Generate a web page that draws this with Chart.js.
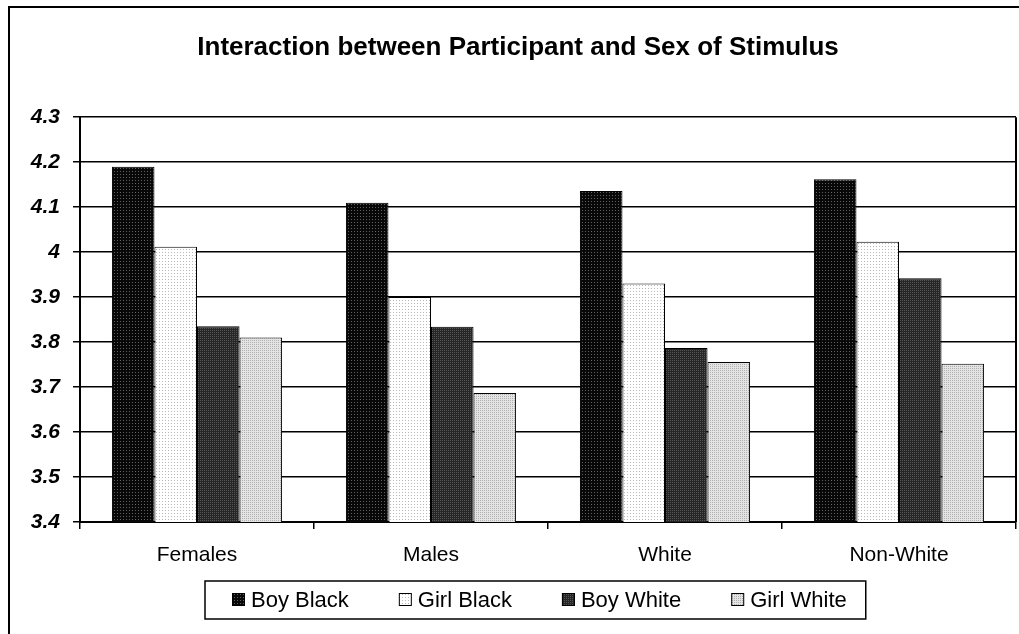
<!DOCTYPE html>
<html>
<head>
<meta charset="utf-8">
<title>Interaction between Participant and Sex of Stimulus</title>
<script src="https://cdn.jsdelivr.net/npm/chart.js@4.4.1/dist/chart.umd.min.js"></script>
<style>
    html, body { margin: 0; padding: 0; background: #ffffff; }
    #wrap { width: 1019px; height: 634px; }
</style>
</head>
<body>
<div id="wrap"><canvas id="chart" width="1019" height="634"></canvas></div>
<script>
// ============================================
// DATA
// ============================================
const categories = ['Females', 'Males', 'White', 'Non-White'];
const seriesNames = ['Boy Black', 'Girl Black', 'Boy White', 'Girl White'];
const boyBlack = [4.19, 4.11, 4.136, 4.162];
const girlBlack = [4.012, 3.90, 3.93, 4.023];
const boyWhite = [3.835, 3.834, 3.787, 3.942];
const girlWhite = [3.81, 3.687, 3.756, 3.752];
const yTickLabels = ['3.4', '3.5', '3.6', '3.7', '3.8', '3.9', '4', '4.1', '4.2', '4.3'];

const FONT = "'Liberation Sans', Arial, Helvetica, sans-serif";

const canvas = document.getElementById('chart');
const ctx = canvas.getContext('2d');

// ============================================
// FILL PATTERNS (Excel-style dotted fills)
// ============================================
function dotPattern(base, dot, step) {
    const c = document.createElement('canvas');
    c.width = step;
    c.height = step;
    const g = c.getContext('2d');
    g.fillStyle = base;
    g.fillRect(0, 0, step, step);
    g.fillStyle = dot;
    g.fillRect(0, 0, 1, 1);
    return ctx.createPattern(c, 'repeat');
}

const fills = [
    dotPattern('#080808', '#606060', 3),
    dotPattern('#ffffff', '#b8b8b8', 3),
    dotPattern('#262626', '#555555', 2),
    dotPattern('#e4e4e4', '#b0b0b0', 2)
];
const seriesValues = [boyBlack, girlBlack, boyWhite, girlWhite];

// ============================================
// FRAME + LEGEND PLUGIN
// ============================================
const framePlugin = {
    id: 'frame',
    afterDraw(chart) {
        const c = chart.ctx;
        const area = chart.chartArea;
        c.save();

        // outer chart frame (right and bottom edges fall outside the picture)
        c.strokeStyle = '#000';
        c.lineWidth = 2;
        c.strokeRect(9, 7, chart.width + 20, chart.height + 20);

        // right side of the plot area
        c.beginPath();
        c.moveTo(area.right, area.top);
        c.lineTo(area.right, area.bottom);
        c.stroke();

        // boxed legend under the axis
        const boxLeft = 205, boxTop = 581, boxH = 38;
        const midY = boxTop + boxH / 2;
        c.font = '22px ' + FONT;
        c.textBaseline = 'middle';
        c.textAlign = 'left';
        let x = boxLeft + 27;
        chart.data.datasets.forEach((ds) => {
            c.fillStyle = ds.backgroundColor;
            c.fillRect(x, midY - 7, 13, 13);
            c.lineWidth = 1;
            c.strokeRect(x + 0.5, midY - 6.5, 12, 12);
            c.fillStyle = '#000';
            c.fillText(ds.label, x + 19, midY + 1);
            x += 19 + c.measureText(ds.label).width + 50;
        });
        c.lineWidth = 1.5;
        c.strokeRect(boxLeft, boxTop, x - 31 - boxLeft, boxH);

        c.restore();
    }
};

// ============================================
// CHART
// ============================================
const config = {
    type: 'bar',
    data: {
        labels: categories,
        datasets: seriesNames.map((name, i) => ({
            label: name,
            data: seriesValues[i],
            backgroundColor: fills[i],
            borderColor: '#000000',
            borderWidth: 1,
            barPercentage: 1.0,
            categoryPercentage: 0.727
        }))
    },
    options: {
        responsive: false,
        animation: false,
        devicePixelRatio: 1,
        layout: {
            padding: { left: 20, right: 3, top: 0, bottom: 0 }
        },
        plugins: {
            legend: { display: false },
            tooltip: { enabled: false },
            title: {
                display: true,
                text: 'Interaction between Participant and Sex of Stimulus',
                color: '#000000',
                font: { family: FONT, size: 26, weight: 'bold', lineHeight: 1.2 },
                padding: { top: 32, bottom: 54 }
            }
        },
        scales: {
            x: {
                offset: true,
                grid: {
                    offset: true,
                    drawOnChartArea: false,
                    drawTicks: true,
                    tickLength: 7,
                    color: '#000000',
                    lineWidth: 1.5
                },
                border: { display: true, color: '#000000', width: 2 },
                ticks: {
                    color: '#000000',
                    padding: 14,
                    font: { family: FONT, size: 21 }
                },
                afterFit: (scale) => { scale.height = 112; }
            },
            y: {
                min: 3.4,
                max: 4.3,
                grid: {
                    color: '#000000',
                    lineWidth: 1.5,
                    drawTicks: true,
                    tickLength: 7
                },
                border: { display: true, color: '#000000', width: 2 },
                ticks: {
                    stepSize: 0.1,
                    color: '#000000',
                    padding: 13,
                    font: { family: FONT, size: 21, weight: 'bold', style: 'italic' },
                    callback: (value, index) => yTickLabels[index] !== undefined ? yTickLabels[index] : value
                },
                afterFit: (scale) => { scale.width = 60; }
            }
        }
    },
    plugins: [framePlugin]
};

const chart = new Chart(ctx, config);
</script>
</body>
</html>
